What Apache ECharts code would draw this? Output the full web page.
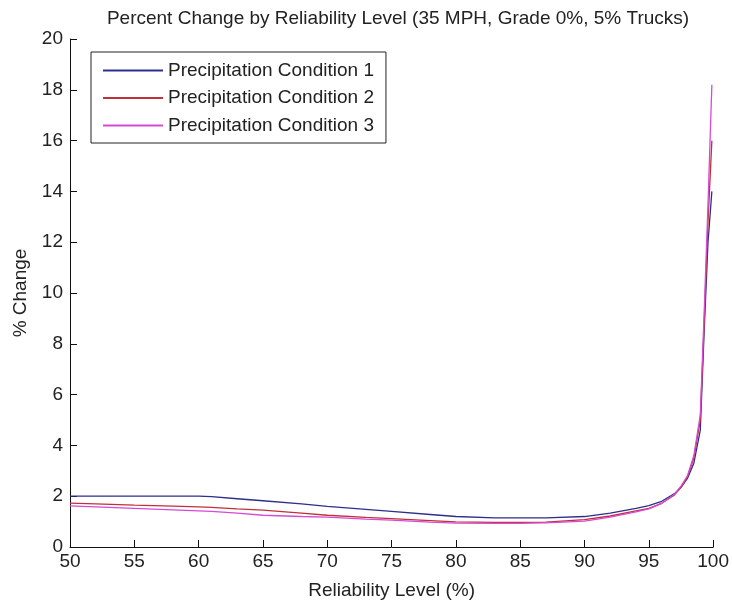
<!DOCTYPE html>
<html>
<head>
<meta charset="utf-8">
<script src="https://cdn.jsdelivr.net/npm/echarts@6/dist/echarts.min.js"></script>
<style>html,body{margin:0;padding:0;background:#fff;}#c{width:732px;height:605px;}</style>
</head>
<body>
<div id="c"></div>
<script>
const reliability = [50, 52, 55, 58, 60, 61, 63, 65, 68, 70, 73, 75, 78, 80, 83, 85, 87, 90, 92, 94, 95, 96, 97, 97.5, 98, 98.5, 99, 99.3, 99.6, 99.9];
const cond1 = [2.0, 2.0, 2.0, 2.0, 2.0, 1.98, 1.9, 1.82, 1.7, 1.6, 1.48, 1.4, 1.28, 1.2, 1.15, 1.15, 1.15, 1.2, 1.33, 1.52, 1.63, 1.8, 2.1, 2.35, 2.7, 3.3, 4.6, 8.5, 12.0, 14.0];
const cond2 = [1.73, 1.7, 1.65, 1.61, 1.58, 1.56, 1.5, 1.45, 1.33, 1.25, 1.17, 1.12, 1.04, 0.99, 0.97, 0.97, 0.98, 1.08, 1.22, 1.42, 1.52, 1.72, 2.05, 2.35, 2.75, 3.5, 5.0, 8.8, 12.8, 16.0];
const cond3 = [1.62, 1.58, 1.52, 1.46, 1.42, 1.4, 1.33, 1.25, 1.2, 1.18, 1.1, 1.06, 0.98, 0.94, 0.93, 0.93, 0.95, 1.02, 1.18, 1.38, 1.5, 1.72, 2.08, 2.4, 2.8, 3.6, 5.2, 9.2, 13.5, 18.2];
const seriesNames = ['Precipitation Condition 1', 'Precipitation Condition 2', 'Precipitation Condition 3'];
const xTicks = [50, 55, 60, 65, 70, 75, 80, 85, 90, 95, 100];
const yTicks = [0, 2, 4, 6, 8, 10, 12, 14, 16, 18, 20];

const colors = ['#2e2e8c', '#c0303a', '#d64ad6'];
const FONT = '"Liberation Sans", Arial, sans-serif';
const FS = 19;
const allData = [cond1, cond2, cond3];

const chart = echarts.init(document.getElementById('c'), null, {renderer: 'canvas'});
chart.setOption({
  animation: false,
  backgroundColor: '#fff',
  title: {
    text: 'Percent Change by Reliability Level (35 MPH, Grade 0%, 5% Trucks)',
    left: 393, top: 4, textAlign: 'center',
    textStyle: {fontFamily: FONT, fontSize: FS, fontWeight: 'normal', color: '#222'}
  },
  legend: {
    data: seriesNames,
    orient: 'vertical',
    left: 91, top: 52,
    padding: [9, 12, 8, 12],
    itemWidth: 60, itemHeight: 2, itemGap: 8.5,
    icon: 'rect',
    borderColor: '#222', borderWidth: 1,
    backgroundColor: '#fff',
    textStyle: {fontFamily: FONT, fontSize: FS, color: '#222', lineHeight: 19}
  },
  grid: {left: 70, right: 16, top: 39, bottom: 58, containLabel: false},
  xAxis: {
    type: 'value', min: 50, max: 100, interval: 5,
    name: 'Reliability Level (%)', nameLocation: 'middle', nameGap: 34,
    nameTextStyle: {fontFamily: FONT, fontSize: FS, color: '#222'},
    axisLine: {lineStyle: {color: '#111', width: 1}},
    axisTick: {inside: true, length: 7, lineStyle: {color: '#111'}},
    axisLabel: {fontFamily: FONT, fontSize: FS, color: '#222', margin: 5,
      formatter: v => xTicks.includes(v) ? String(v) : ''},
    splitLine: {show: false}
  },
  yAxis: {
    type: 'value', min: 0, max: 20, interval: 2,
    name: '% Change', nameLocation: 'middle', nameGap: 40, nameRotate: 90,
    nameTextStyle: {fontFamily: FONT, fontSize: FS, color: '#222'},
    axisLine: {show: true, lineStyle: {color: '#111', width: 1}},
    axisTick: {show: true, inside: true, length: 7, lineStyle: {color: '#111'}},
    axisLabel: {fontFamily: FONT, fontSize: FS, color: '#222', margin: 7,
      formatter: v => yTicks.includes(v) ? String(v) : ''},
    splitLine: {show: false}
  },
  series: seriesNames.map((n, i) => ({
    name: n, type: 'line', symbol: 'none',
    data: reliability.map((x, j) => [x, allData[i][j]]),
    lineStyle: {color: colors[i], width: 1.3},
    itemStyle: {color: colors[i]}
  }))
});
</script>
</body>
</html>
